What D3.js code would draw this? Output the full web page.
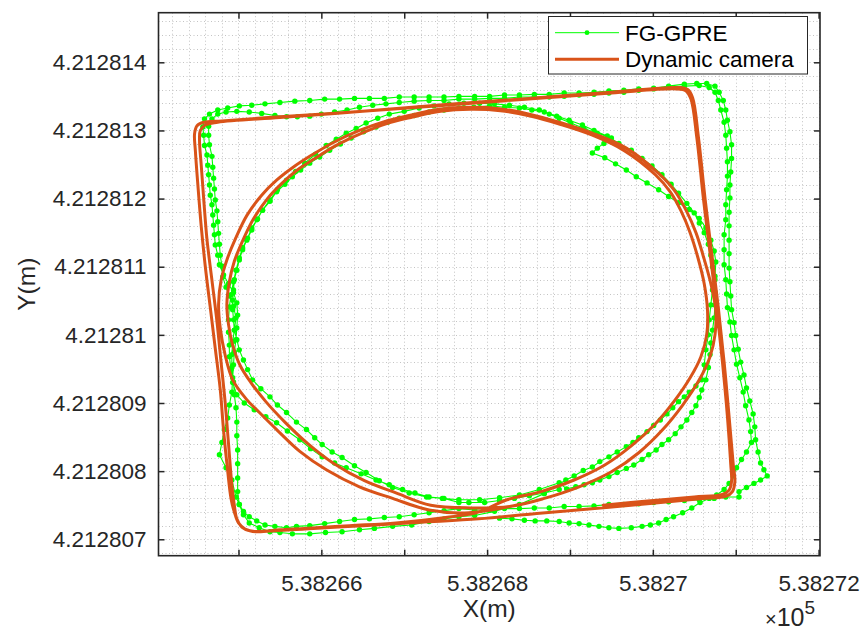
<!DOCTYPE html>
<html>
<head>
<meta charset="utf-8">
<script src="https://cdn.jsdelivr.net/npm/d3@7/dist/d3.min.js"></script>
<style>
  body { margin: 0; background: #fff; }
  svg { display: block; font-family: "Liberation Sans", Arial, Helvetica, sans-serif; }
</style>
</head>
<body>
<svg id="chart" width="864" height="631"></svg>
<script>
// Local origin of the trajectories (UTM metres); track values below are offsets from it.
const EAST0 = 538260;
const NORTH0 = 4212800;

const xLimits = [538264.035, 538272.017];
const yLimits = [4212806.759, 4212814.728];

const xTickValues = [538265, 538266, 538267, 538268, 538269, 538270, 538271, 538272];
const xTickLabels = ["", "5.38266", "", "5.38268", "", "5.3827", "", "5.38272"];
const yTickValues = [4212807, 4212808, 4212809, 4212810, 4212811, 4212812, 4212813, 4212814];
const yTickLabels = ["4.212807", "4.212808", "4.212809", "4.21281", "4.212811", "4.212812", "4.212813", "4.212814"];

const seriesNames = ["FG-GPRE", "Dynamic camera"];

// Dynamic camera trajectory: two laps of the ellipse, then two laps of the square.
const cameraTrack = [
  [8.39,7.51],[7.78,7.39],[7.30,7.43],[6.86,7.60],[6.46,7.77],[6.06,8.02],[5.74,8.29],[5.46,8.61],
  [5.22,8.90],[5.10,9.05],[4.93,9.34],[4.84,9.70],[4.78,10.10],[4.76,10.45],[4.79,10.80],[4.86,11.10],
  [4.96,11.40],[5.10,11.75],[5.28,12.05],[5.46,12.27],[5.66,12.46],[5.86,12.62],[6.14,12.82],[6.46,13.00],
  [6.76,13.13],[7.06,13.22],[7.42,13.31],[7.78,13.34],[8.15,13.32],[8.51,13.24],[8.87,13.12],[9.27,12.96],
  [9.68,12.74],[10.07,12.37],[10.26,12.12],[10.40,11.83],[10.52,11.50],[10.61,11.15],[10.70,10.75],[10.76,10.35],
  [10.75,10.00],[10.69,9.68],[10.56,9.34],[10.36,8.97],[10.12,8.61],[9.83,8.27],[9.50,7.99],[9.11,7.77],
  [8.69,7.60],[8.27,7.48],
  [7.80,7.46],[7.32,7.50],[6.90,7.68],[6.52,7.86],[6.14,8.12],[5.84,8.40],[5.56,8.72],[5.33,9.02],
  [5.15,9.30],[5.02,9.55],[4.93,9.85],[4.88,10.15],[4.86,10.45],[4.89,10.78],[4.95,11.08],[5.05,11.38],
  [5.18,11.70],[5.35,12.00],[5.52,12.22],[5.71,12.42],[5.91,12.58],[6.18,12.78],[6.49,12.96],[6.79,13.10],
  [7.08,13.19],[7.44,13.28],[7.80,13.31],[8.16,13.29],[8.52,13.21],[8.88,13.09],[9.27,12.93],[9.66,12.70],
  [10.03,12.35],[10.21,12.10],[10.34,11.82],[10.45,11.50],[10.54,11.15],[10.62,10.75],[10.66,10.35],[10.65,10.00],
  [10.58,9.68],[10.45,9.37],[10.26,9.03],[10.02,8.68],[9.74,8.37],[9.42,8.09],[9.05,7.87],[8.65,7.70],
  [8.24,7.58],
  [7.90,7.40],[7.50,7.32],[6.90,7.24],[6.34,7.20],[5.80,7.16],[5.50,7.14],[5.22,7.11],[5.08,7.15],
  [5.00,7.24],[4.95,7.40],[4.91,7.60],[4.87,8.00],[4.82,8.60],[4.78,9.20],[4.72,9.80],[4.66,10.40],
  [4.60,11.00],[4.55,11.60],[4.51,12.20],[4.48,12.70],[4.47,12.95],[4.50,13.07],[4.58,13.12],[4.80,13.14],
  [5.50,13.20],[6.50,13.28],[7.50,13.38],[8.50,13.47],[9.50,13.56],[10.30,13.63],[10.42,13.60],[10.48,13.48],
  [10.55,12.90],[10.63,12.00],[10.71,11.20],[10.79,10.40],[10.86,9.60],[10.92,8.80],[10.97,8.10],[10.99,7.85],
  [10.96,7.70],[10.88,7.63],[10.60,7.60],[10.00,7.53],[9.30,7.45],[8.60,7.38],[7.90,7.30],[7.20,7.25],
  [6.50,7.20],[5.80,7.15],[5.35,7.12],[5.15,7.12],[5.04,7.18],[4.98,7.30],[4.95,7.50],[4.92,7.80],
  [4.88,8.40],[4.84,9.00],[4.79,9.60],[4.74,10.20],[4.68,10.80],[4.62,11.40],[4.58,12.00],[4.55,12.50],
  [4.53,12.85],[4.54,13.00],[4.60,13.08],[4.75,13.12],[5.50,13.19],[6.50,13.28],[7.50,13.37],[8.50,13.46],
  [9.50,13.55],[10.28,13.61],[10.40,13.58],[10.46,13.46],[10.53,12.90],[10.61,12.00],[10.69,11.20],[10.77,10.40],
  [10.84,9.60],[10.90,8.80],[10.94,8.10],[10.95,7.85],[10.92,7.72],[10.84,7.66],[10.50,7.62],[9.90,7.56],
  [9.40,7.50]
];

// FG-GPRE estimated trajectory (same run).
const gpreTrack = [
  [8.87,7.73],[8.69,7.68],[8.51,7.64],[8.33,7.60],[8.15,7.57],[7.97,7.54],[7.78,7.54],[7.66,7.54],
  [7.48,7.60],[7.30,7.62],[7.13,7.68],[6.98,7.73],[6.82,7.80],[6.66,7.87],[6.48,7.96],[6.30,8.05],
  [6.16,8.12],[6.01,8.21],[5.87,8.33],[5.74,8.46],[5.59,8.59],[5.46,8.71],[5.33,8.80],[5.19,8.90],
  [5.07,9.00],[4.98,9.12],[4.93,9.30],[4.91,9.49],[4.89,9.68],[4.89,9.85],[4.88,10.04],[4.88,10.22],
  [4.89,10.41],[4.91,10.59],[4.94,10.78],[4.97,10.95],[5.01,11.13],[5.05,11.28],[5.11,11.42],[5.16,11.57],
  [5.23,11.70],[5.29,11.83],[5.38,11.96],[5.46,12.10],[5.56,12.21],[5.65,12.32],[5.75,12.42],[5.86,12.52],
  [5.98,12.61],[6.10,12.71],[6.23,12.80],[6.36,12.89],[6.51,12.98],[6.66,13.05],[6.80,13.12],[6.94,13.18],
  [7.12,13.22],[7.30,13.27],[7.48,13.30],[7.66,13.33],[7.84,13.34],[8.03,13.36],[8.21,13.34],[8.39,13.33],
  [8.54,13.30],[8.69,13.27],[8.84,13.21],[8.99,13.15],[9.15,13.08],[9.29,13.00],[9.45,12.92],[9.59,12.81],
  [9.74,12.71],[9.87,12.59],[9.99,12.48],[10.11,12.35],[10.22,12.21],[10.31,12.08],[10.41,11.93],[10.50,11.79],
  [10.56,11.64],[10.62,11.50],[10.67,11.33],[10.70,11.17],[10.72,11.00],[10.75,10.81],[10.75,10.63],[10.75,10.44],
  [10.74,10.25],[10.72,10.07],[10.70,9.88],[10.69,9.71],[10.67,9.52],[10.64,9.34],[10.59,9.19],[10.56,9.08],
  [10.52,8.96],[10.47,8.86],[10.41,8.75],[10.34,8.65],[10.27,8.55],[10.19,8.46],[10.11,8.39],[10.04,8.31],
  [9.95,8.24],[9.87,8.17],[9.77,8.09],[9.68,8.04],[9.57,7.98],[9.47,7.92],[9.36,7.87],[9.27,7.83],
  [9.17,7.80],[9.07,7.77],[8.96,7.74],
  [8.87,7.83],[8.63,7.73],[8.39,7.65],[8.15,7.61],[7.91,7.58],[7.66,7.58],[7.46,7.60],[7.27,7.62],
  [7.06,7.68],[6.86,7.76],[6.70,7.86],[6.54,7.98],[6.40,8.08],[6.25,8.20],[6.13,8.28],[6.01,8.39],
  [5.92,8.49],[5.82,8.61],[5.70,8.72],[5.58,8.86],[5.47,8.97],[5.38,9.09],[5.27,9.21],[5.17,9.34],
  [5.11,9.49],[5.06,9.63],[5.01,9.78],[4.98,9.93],[4.95,10.07],[4.94,10.22],[4.93,10.37],[4.93,10.51],
  [4.94,10.66],[4.95,10.81],[4.98,10.95],[5.01,11.10],[5.05,11.25],[5.10,11.39],[5.16,11.54],[5.22,11.69],
  [5.29,11.83],[5.38,11.98],[5.47,12.13],[5.58,12.27],[5.69,12.40],[5.80,12.52],[5.93,12.65],[6.06,12.78],
  [6.18,12.87],[6.30,12.96],[6.42,13.03],[6.54,13.11],[6.68,13.18],[6.82,13.24],[7.00,13.28],[7.18,13.33],
  [7.36,13.36],[7.54,13.39],[7.72,13.40],[7.91,13.40],[8.09,13.39],[8.27,13.37],[8.45,13.34],[8.63,13.30],
  [8.75,13.24],[8.87,13.18],[9.01,13.11],[9.17,13.03],[9.33,12.96],[9.50,12.89],[9.41,12.81],[9.33,12.74],
  [9.27,12.67],[9.42,12.60],[9.55,12.51],[9.68,12.42],[9.80,12.32],[9.93,12.23],[10.07,12.13],[10.19,12.03],
  [10.31,11.94],[10.44,11.84],[10.56,11.71],[10.64,11.57],[10.70,11.39],[10.74,11.23],[10.76,11.07],[10.75,10.86],
  [10.72,10.66],[10.70,10.44],[10.68,10.22],[10.67,10.00],[10.64,9.78],[10.62,9.56],[10.59,9.34],[10.52,9.25],
  [10.44,9.16],[10.38,9.09],[10.31,9.02],[10.24,8.93],[10.17,8.84],[10.09,8.75],[10.01,8.67],[9.93,8.58],
  [9.83,8.49],[9.76,8.42],[9.68,8.36],[9.57,8.28],[9.47,8.21],[9.36,8.14],[9.27,8.06],[9.16,8.01],
  [9.05,7.93],[8.95,7.87],
  [8.69,7.67],[8.39,7.51],[8.09,7.41],[7.85,7.35],[7.66,7.33],[7.48,7.30],[7.30,7.26],[7.09,7.21],
  [6.86,7.19],[6.64,7.16],[6.46,7.14],[6.25,7.11],[6.05,7.10],[5.86,7.08],[5.65,7.08],[5.50,7.10],
  [5.38,7.11],[5.25,7.17],[5.13,7.24],[5.06,7.36],[5.01,7.51],
  [4.97,7.62],[4.92,7.87],[4.85,8.05],[4.77,8.24],[4.80,8.42],[4.83,8.61],[4.87,8.78],[4.89,8.97],
  [4.92,9.16],[4.93,9.37],[4.94,9.56],[4.95,9.75],[4.97,9.93],[4.98,10.10],[4.99,10.29],[4.98,10.47],
  [4.94,10.62],[4.88,10.75],[4.82,10.88],[4.77,11.03],[4.75,11.17],[4.72,11.32],[4.71,11.47],[4.70,11.61],
  [4.69,11.76],[4.68,11.91],[4.66,12.05],[4.65,12.20],[4.64,12.35],[4.63,12.49],[4.62,12.64],[4.59,12.78],
  [4.58,12.93],[4.57,13.05],[4.59,13.17],[4.65,13.24],[4.75,13.30],[4.87,13.33],[5.01,13.36],[5.16,13.37],
  [5.32,13.39],[5.50,13.41],[5.68,13.43],[5.86,13.44],[6.04,13.46],[6.22,13.46],[6.40,13.47],[6.58,13.47],
  [6.76,13.47],[6.94,13.49],[7.12,13.49],[7.30,13.49],[7.48,13.49],[7.66,13.50],[7.85,13.50],[8.03,13.50],
  [8.21,13.52],[8.39,13.52],[8.57,13.53],[8.75,13.53],[8.93,13.55],[9.11,13.55],[9.29,13.56],[9.47,13.58],
  [9.65,13.59],[9.83,13.61],[10.01,13.62],[10.19,13.65],[10.38,13.68],[10.53,13.69],[10.65,13.69],[10.75,13.65],
  [10.80,13.56],[10.85,13.44],[10.88,13.30],[10.90,13.15],[10.93,12.98],[10.95,12.79],[10.95,12.59],[10.94,12.39],
  [10.93,12.20],[10.93,12.01],[10.92,11.80],[10.92,11.60],[10.92,11.39],[10.92,11.19],[10.92,10.98],[10.93,10.78],
  [10.94,10.57],[10.95,10.37],[10.98,10.18],[11.00,9.99],[11.03,9.79],[11.06,9.60],[11.10,9.41],[11.13,9.22],
  [11.17,9.03],[11.21,8.84],[11.23,8.65],[11.24,8.46],[11.27,8.28],[11.30,8.12],[11.34,8.02],[11.38,7.93],
  [11.30,7.87],[11.22,7.82],[11.13,7.76],[11.04,7.70],[11.04,7.62],
  [10.88,7.62],[10.74,7.60],[10.56,7.58],[10.38,7.57],[10.19,7.55],[10.01,7.54],[9.83,7.52],[9.65,7.51],
  [9.47,7.51],[9.29,7.49],[9.11,7.48],[8.93,7.48],[8.75,7.46],[8.57,7.46],[8.39,7.45],[8.21,7.45],
  [8.03,7.43],[7.85,7.43],[7.66,7.45],[7.48,7.42],[7.30,7.39],[7.12,7.36],[6.94,7.33],[6.76,7.32],
  [6.58,7.30],[6.40,7.29],[6.22,7.26],[6.04,7.23],[5.86,7.20],[5.70,7.19],[5.58,7.17],[5.44,7.19],
  [5.32,7.21],[5.22,7.27],[5.13,7.33],[5.06,7.41],[5.01,7.51],
  [4.99,7.70],[4.99,7.90],[4.99,8.11],[4.99,8.31],[4.98,8.52],[4.98,8.72],[4.97,8.93],[4.95,9.12],
  [4.94,9.31],[4.92,9.52],[4.92,9.71],[4.93,9.90],[4.95,10.07],[4.97,10.25],[4.94,10.42],[4.89,10.57],
  [4.85,10.70],[4.81,10.85],[4.80,11.01],[4.78,11.17],[4.77,11.33],[4.76,11.49],[4.75,11.66],[4.74,11.82],
  [4.72,11.98],[4.71,12.14],[4.70,12.30],[4.69,12.46],[4.68,12.62],[4.65,12.79],[4.64,12.93],[4.64,13.06],
  [4.68,13.17],[4.75,13.24],[4.85,13.27],[4.98,13.28],[5.13,13.27],[5.28,13.25],[5.44,13.22],[5.58,13.20],
  [5.71,13.20],[5.86,13.21],[6.00,13.24],[6.16,13.27],[6.31,13.30],[6.46,13.34],[6.62,13.37],[6.78,13.39],
  [6.94,13.41],[7.12,13.43],[7.30,13.44],[7.48,13.44],[7.66,13.46],[7.85,13.46],[8.03,13.47],[8.21,13.47],
  [8.39,13.49],[8.57,13.49],[8.75,13.49],[8.93,13.50],[9.11,13.52],[9.29,13.53],[9.47,13.55],[9.65,13.56],
  [9.83,13.59],[10.01,13.61],[10.19,13.63],[10.38,13.65],[10.56,13.66],[10.68,13.63],[10.75,13.56],[10.79,13.44],
  [10.82,13.30],[10.86,13.12],[10.88,12.93],[10.89,12.74],[10.90,12.54],[10.90,12.33],[10.89,12.13],[10.88,11.91],
  [10.88,11.69],[10.86,11.47],[10.86,11.25],[10.86,11.03],[10.88,10.81],[10.89,10.60],[10.90,10.40],[10.93,10.19],
  [10.95,9.99],[10.98,9.78],[11.01,9.57],[11.05,9.37],[11.09,9.16],[11.12,8.96],[11.16,8.75],[11.18,8.58],
  [11.19,8.42],[11.13,8.28],[11.07,8.17],[11.01,8.05],[10.97,7.93],[10.92,7.82],[10.86,7.73],[10.77,7.65],
  [10.68,7.60],[10.57,7.54],[10.47,7.46],[10.36,7.39],[10.25,7.33],[10.16,7.29],[10.07,7.24],[9.97,7.21],
  [9.87,7.19],[9.74,7.17],[9.59,7.16],[9.47,7.17],[9.35,7.19],[9.23,7.21],[9.11,7.23],[8.99,7.24],
  [8.87,7.26],[8.72,7.27],[8.58,7.27],[8.45,7.28],[8.30,7.30],[8.15,7.31]
];

const COLORS = { gpre: "#00ff00", camera: "#d95319", axis: "#262626", grid: "#c4c4c4" };
const W = 864, H = 631;
const plot = { left: 158.5, right: 820, top: 12.7, bottom: 555.7 };

const x = d3.scaleLinear().domain(xLimits).range([plot.left, plot.right]);
const y = d3.scaleLinear().domain(yLimits).range([plot.bottom, plot.top]);
const px = d => x(EAST0 + d[0]);
const py = d => y(NORTH0 + d[1]);

const svg = d3.select("#chart");
svg.append("rect").attr("width", W).attr("height", H).attr("fill", "#fff");

svg.append("defs").append("clipPath").attr("id", "plot-clip")
  .append("rect")
  .attr("x", plot.left).attr("y", plot.top)
  .attr("width", plot.right - plot.left).attr("height", plot.bottom - plot.top);

// Dotted grid every 0.2 m
const grid = svg.append("g").attr("stroke", COLORS.grid).attr("stroke-width", 1)
  .attr("stroke-dasharray", "1 2.5");
const gridE = d3.range(Math.ceil(xLimits[0] * 5), Math.floor(xLimits[1] * 5) + 1).map(k => k / 5);
const gridN = d3.range(Math.ceil(yLimits[0] * 5), Math.floor(yLimits[1] * 5) + 1).map(k => k / 5);
grid.selectAll("line.gx").data(gridE).join("line").attr("class", "gx")
  .attr("x1", d => Math.round(x(d)) + 0.5).attr("x2", d => Math.round(x(d)) + 0.5)
  .attr("y1", plot.top).attr("y2", plot.bottom);
grid.selectAll("line.gy").data(gridN).join("line").attr("class", "gy")
  .attr("y1", d => Math.round(y(d)) + 0.5).attr("y2", d => Math.round(y(d)) + 0.5)
  .attr("x1", plot.left).attr("x2", plot.right);

const data = svg.append("g").attr("clip-path", "url(#plot-clip)");

// FG-GPRE: thin line with point markers
data.append("path")
  .datum(gpreTrack)
  .attr("fill", "none")
  .attr("stroke", COLORS.gpre)
  .attr("stroke-width", 1.1)
  .attr("stroke-linejoin", "round")
  .attr("d", d3.line().x(px).y(py));
data.append("g").attr("fill", COLORS.gpre)
  .selectAll("circle").data(gpreTrack).join("circle")
  .attr("cx", px).attr("cy", py).attr("r", 2.7);

// Dynamic camera: thick smooth line
data.append("path")
  .datum(cameraTrack)
  .attr("fill", "none")
  .attr("stroke", COLORS.camera)
  .attr("stroke-width", 3)
  .attr("stroke-linejoin", "round")
  .attr("stroke-linecap", "round")
  .attr("d", d3.line().x(px).y(py).curve(d3.curveCatmullRom.alpha(0.5)));

// Axes (ticks point inward on all four sides)
const tickFont = "22.5px";
function styleAxis(g) {
  g.select(".domain").remove();
  g.selectAll(".tick line").attr("stroke", COLORS.axis).attr("stroke-width", 1.5);
  g.selectAll(".tick text").attr("fill", COLORS.axis).attr("font-size", tickFont)
    .attr("font-family", "'Liberation Sans', Arial, Helvetica, sans-serif");
}

svg.append("g").attr("transform", `translate(0,${plot.bottom})`)
  .call(d3.axisBottom(x).tickValues(xTickValues).tickSizeInner(-6).tickSizeOuter(0)
    .tickPadding(19).tickFormat((d, i) => xTickLabels[i]))
  .call(styleAxis);
svg.append("g").attr("transform", `translate(0,${plot.top})`)
  .call(d3.axisTop(x).tickValues(xTickValues).tickSizeInner(-6).tickSizeOuter(0).tickFormat(""))
  .call(styleAxis);
svg.append("g").attr("transform", `translate(${plot.left},0)`)
  .call(d3.axisLeft(y).tickValues(yTickValues).tickSizeInner(-6).tickSizeOuter(0)
    .tickPadding(12).tickFormat((d, i) => yTickLabels[i]))
  .call(styleAxis);
svg.append("g").attr("transform", `translate(${plot.right},0)`)
  .call(d3.axisRight(y).tickValues(yTickValues).tickSizeInner(-6).tickSizeOuter(0).tickFormat(""))
  .call(styleAxis);

// Axes box
svg.append("rect")
  .attr("x", plot.left).attr("y", plot.top)
  .attr("width", plot.right - plot.left).attr("height", plot.bottom - plot.top)
  .attr("fill", "none").attr("stroke", COLORS.axis).attr("stroke-width", 1.6);

// Axis titles
svg.append("text")
  .attr("x", (plot.left + plot.right) / 2).attr("y", 617)
  .attr("text-anchor", "middle").attr("font-size", "24.5px").attr("fill", COLORS.axis)
  .text("X(m)");
svg.append("text")
  .attr("transform", `translate(35,${(plot.top + plot.bottom) / 2}) rotate(-90)`)
  .attr("text-anchor", "middle").attr("font-size", "24.5px").attr("fill", COLORS.axis)
  .text("Y(m)");

// Exponent note for the x axis
const expo = svg.append("text").attr("x", 765).attr("y", 626).attr("fill", COLORS.axis);
expo.append("tspan").attr("font-size", "20px").text("\u00d7");
expo.append("tspan").attr("font-size", "25px").text("10");
expo.append("tspan").attr("font-size", "19px").attr("dy", -12).text("5");

// Legend
const legend = svg.append("g");
legend.append("rect")
  .attr("x", 548.5).attr("y", 16.5).attr("width", 259).attr("height", 57.5)
  .attr("fill", "#fff").attr("stroke", COLORS.axis).attr("stroke-width", 1);
const legendRows = [
  { name: seriesNames[0], color: COLORS.gpre, width: 1, marker: true, cy: 32.7 },
  { name: seriesNames[1], color: COLORS.camera, width: 3, marker: false, cy: 59.3 }
];
legendRows.forEach(r => {
  legend.append("line").attr("x1", 555).attr("x2", 619).attr("y1", r.cy).attr("y2", r.cy)
    .attr("stroke", r.color).attr("stroke-width", r.width);
  if (r.marker) legend.append("circle").attr("cx", 587).attr("cy", r.cy).attr("r", 2.4).attr("fill", r.color);
  legend.append("text").attr("x", 625).attr("y", r.cy + 7.8)
    .attr("font-size", "22.5px").attr("fill", "#000").text(r.name);
});
</script>
</body>
</html>
